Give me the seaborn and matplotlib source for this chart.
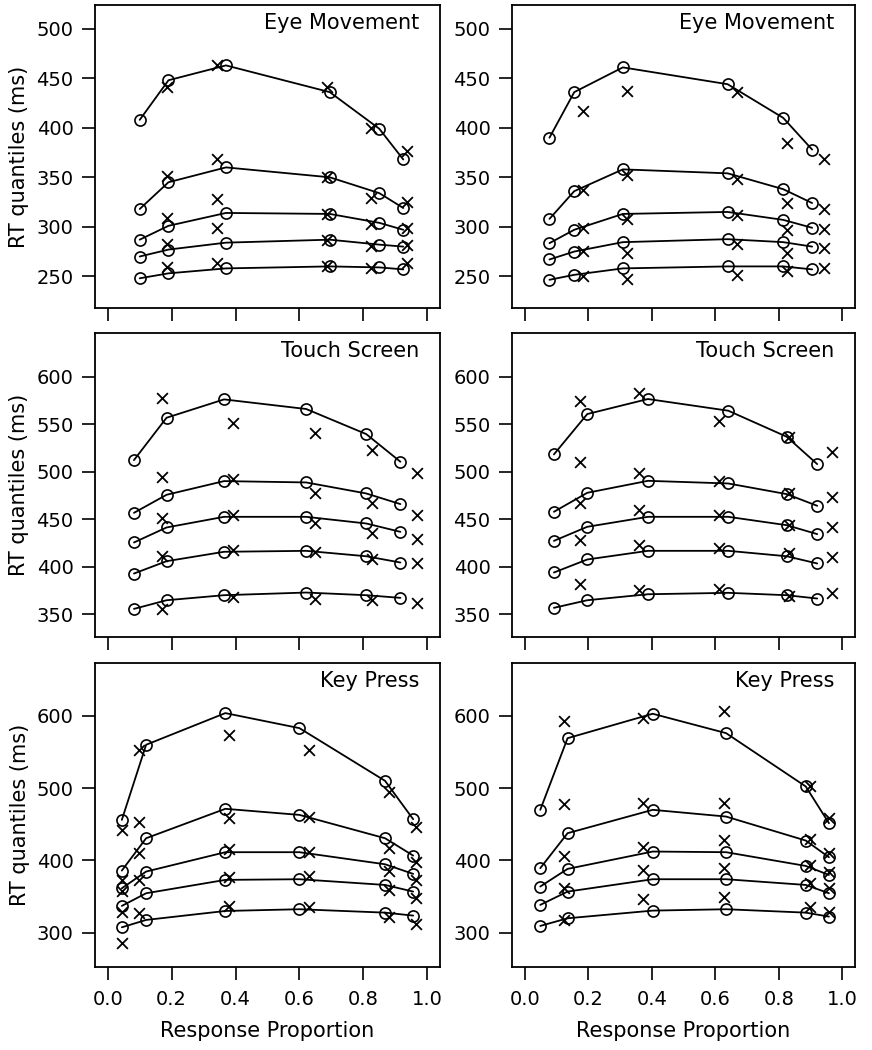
import numpy as np
import pandas as pd
import matplotlib
matplotlib.use("Agg")
import matplotlib.pyplot as plt
import seaborn as sns

sns.set_style("ticks")
plt.rcParams['font.family'] = ['DejaVu Sans']
plt.rcParams['text.color'] = 'black'
plt.rcParams['axes.labelcolor'] = 'black'
plt.rcParams['xtick.color'] = 'black'
plt.rcParams['ytick.color'] = 'black'

# quantile levels .1 .3 .5 .7 .9 -> one row each
# ---- Eye Movement, left
eye_l_model_p = [0.100, 0.190, 0.370, 0.695, 0.850, 0.925]
eye_l_model_q = [
    [248, 253, 258, 260, 259, 257],
    [270, 277, 284, 287, 282, 280],
    [287, 301, 314, 313, 304, 297],
    [318, 345, 360, 350, 334, 319],
    [408, 448, 463, 436, 399, 368],
]
eye_l_data_p = [0.184, 0.341, 0.686, 0.825, 0.937]
eye_l_data_q = [
    [259, 263, 260, 258, 263],
    [283, 299, 287, 281, 282],
    [309, 328, 313, 303, 299],
    [351, 368, 350, 329, 325],
    [441, 463, 441, 400, 377],
]

# ---- Eye Movement, right
eye_r_model_p = [0.078, 0.156, 0.309, 0.639, 0.814, 0.905]
eye_r_model_q = [
    [246.5, 251.5, 258, 260, 260, 257],
    [267, 275, 284.5, 287.5, 284.5, 280],
    [283.5, 297, 313, 315, 307, 299],
    [308, 336, 358, 354, 338, 324],
    [390, 436, 461, 444, 410, 378],
]
eye_r_data_p = [0.183, 0.321, 0.668, 0.827, 0.943]
eye_r_data_q = [
    [250.5, 247, 251.5, 255, 258],
    [276, 274, 282.5, 274, 278.5],
    [299, 308, 312, 297, 297.5],
    [337, 352, 348.5, 324, 318],
    [416.5, 437, 436, 385, 368],
]

# ---- Touch Screen, left
touch_l_model_p = [0.082, 0.184, 0.364, 0.621, 0.809, 0.916]
touch_l_model_q = [
    [355.6, 364.7, 370, 372.8, 370, 367.2],
    [392.8, 405.8, 415.7, 416.7, 411, 404.4],
    [425.5, 441.3, 452.5, 452.5, 445.5, 436.7],
    [456.7, 475.7, 490.1, 488.7, 477.1, 465.9],
    [512.2, 556.8, 576.1, 566, 539.6, 510.5],
]
touch_l_data_p = [0.171, 0.393, 0.648, 0.827, 0.968]
touch_l_data_q = [
    [356, 368.3, 366.5, 365.4, 362.3],
    [411, 418.1, 415.7, 407.6, 403.4],
    [450.8, 454.3, 446.2, 435, 428.7],
    [494.7, 491.9, 477.8, 467.3, 454.3],
    [577.9, 550.8, 541, 522.8, 498.2],
]

# ---- Touch Screen, right
touch_r_model_p = [0.092, 0.197, 0.388, 0.641, 0.825, 0.921]
touch_r_model_q = [
    [356.7, 364.7, 371, 372.5, 370, 366.5],
    [393.9, 407.6, 416.7, 416.7, 411, 403.4],
    [427.2, 442, 452.5, 452.5, 443.7, 434.3],
    [457.8, 477.8, 490.4, 487.6, 476.4, 464.1],
    [518.2, 560.7, 576.5, 564.2, 536.8, 508],
]
touch_r_data_p = [0.174, 0.359, 0.611, 0.833, 0.969]
touch_r_data_q = [
    [381.6, 376, 377, 369.3, 371.8],
    [427.9, 422.7, 420.2, 413.9, 410.4],
    [467.3, 459.6, 454.3, 443.7, 442],
    [510.5, 498.2, 490.4, 477.8, 473.6],
    [574.4, 583.1, 553.7, 536.8, 521],
]

# ---- Key Press, left
key_l_model_p = [0.044, 0.120, 0.368, 0.600, 0.868, 0.956]
key_l_model_q = [
    [307.4, 317.6, 330, 332.4, 327.7, 323.6],
    [337, 354.5, 373, 373.9, 366, 356.8],
    [361.4, 384.5, 411.3, 411.3, 394.6, 381.3],
    [385.9, 430.6, 471.3, 462.9, 430.6, 406.6],
    [456, 559.9, 603.7, 582.9, 510, 456.9],
]
key_l_data_p = [0.045, 0.099, 0.378, 0.630, 0.880, 0.965]
key_l_data_q = [
    [286, 327, 337, 336, 322.2, 312],
    [329, 373, 377.6, 378.5, 359.1, 347.6],
    [357, 410, 415.9, 412.2, 385.9, 373],
    [373, 453, 458.3, 460.6, 416.8, 398.3],
    [442, 553, 573.7, 552.9, 495.2, 446.8],
]

# ---- Key Press, right
key_r_model_p = [0.049, 0.135, 0.403, 0.634, 0.885, 0.958]
key_r_model_q = [
    [309.3, 319.9, 330.5, 332.4, 327.7, 322.2],
    [338.4, 356.8, 373.9, 373.9, 366, 354.5],
    [363.8, 388.2, 412.2, 411.3, 392.3, 379.8],
    [389.2, 437.6, 469.9, 460.6, 427.4, 404.3],
    [469.9, 569, 602.8, 576, 502.2, 451.4],
]
key_r_data_p = [0.125, 0.372, 0.627, 0.898, 0.958]
key_r_data_q = [
    [317.6, 346.2, 349.9, 335, 329.1],
    [361.4, 386.8, 389.1, 368.3, 361.4],
    [406.6, 419.1, 428.3, 393.7, 384.5],
    [478.2, 479.1, 480, 429.3, 410.8],
    [593.1, 596.8, 606.9, 502.2, 458.3],
]

titles = ["Eye Movement", "Touch Screen", "Key Press"]
row_ylims = [(218, 524), (326, 646), (252.5, 673)]
row_yticks = [[250, 300, 350, 400, 450, 500],
              [350, 400, 450, 500, 550, 600],
              [300, 400, 500, 600]]
xticks = [0.0, 0.2, 0.4, 0.6, 0.8, 1.0]

panels = [
    [(eye_l_model_p, eye_l_model_q, eye_l_data_p, eye_l_data_q),
     (eye_r_model_p, eye_r_model_q, eye_r_data_p, eye_r_data_q)],
    [(touch_l_model_p, touch_l_model_q, touch_l_data_p, touch_l_data_q),
     (touch_r_model_p, touch_r_model_q, touch_r_data_p, touch_r_data_q)],
    [(key_l_model_p, key_l_model_q, key_l_data_p, key_l_data_q),
     (key_r_model_p, key_r_model_q, key_r_data_p, key_r_data_q)],
]

fig = plt.figure(figsize=(8.72, 10.5), dpi=100)
col_left = [95 / 872, 512 / 872]
col_w = [345 / 872, 343 / 872]
row_bottom = [1 - 308 / 1050, 1 - 637 / 1050, 1 - 967 / 1050]
row_h = [303 / 1050, 304 / 1050, 304 / 1050]

for r in range(3):
    for c in range(2):
        ax = fig.add_axes([col_left[c], row_bottom[r], col_w[c], row_h[r]])
        mp, mq, dp, dq = panels[r][c]
        for i in range(5):
            sns.lineplot(x=mp, y=mq[i], ax=ax, color='black', linewidth=1.3,
                         marker='o', markersize=8, markerfacecolor='none',
                         markeredgecolor='black', markeredgewidth=1.2)
            sns.scatterplot(x=dp, y=dq[i], ax=ax, color='black', marker='x',
                            s=60, linewidth=1.3)
        ax.set_xlim(-0.04, 1.04)
        ax.set_ylim(*row_ylims[r])
        ax.set_xticks(xticks)
        ax.set_yticks(row_yticks[r])
        ax.tick_params(direction='out', length=9.5, width=1.2, labelsize=14)
        ax.tick_params(axis='y', pad=6)
        ax.tick_params(axis='x', pad=7)
        for s in ax.spines.values():
            s.set_linewidth(1.3)
            s.set_color('black')
        if r == 2:
            ax.set_xticklabels([f"{t:.1f}" for t in xticks])
            ax.set_xlabel("Response Proportion", fontsize=15, labelpad=9)
        else:
            ax.set_xticklabels([])
        if c == 0:
            ax.set_ylabel("RT quantiles (ms)", fontsize=15, labelpad=5)
        ax.text(0.94, 0.975, titles[r], transform=ax.transAxes,
                ha='right', va='top', fontsize=15)

fig.savefig("out.png", dpi=100)
